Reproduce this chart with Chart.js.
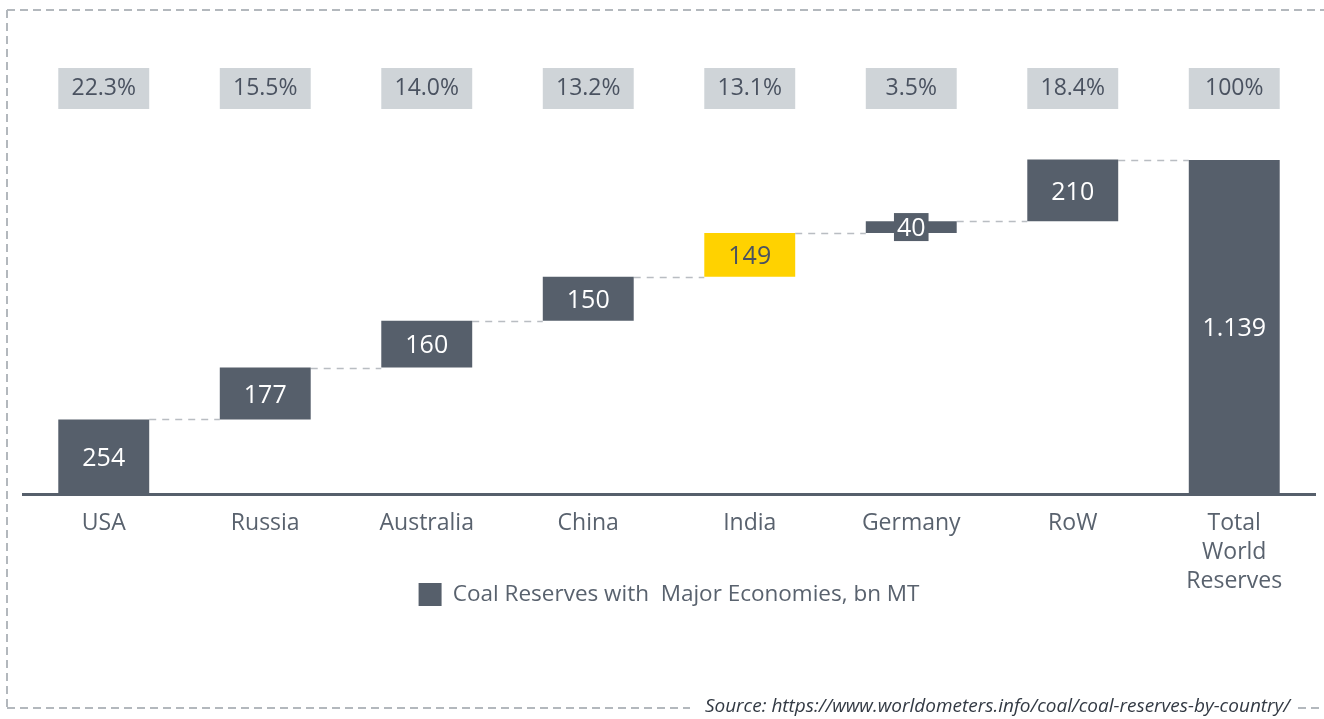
<!DOCTYPE html>
<html>
<head>
<meta charset="utf-8">
<title>Coal Reserves</title>
<script src="https://cdn.jsdelivr.net/npm/chart.js@4.4.1/dist/chart.umd.min.js"></script>
<style>
  html, body { margin: 0; padding: 0; background: #fff; }
  canvas { display: block; }
</style>
</head>
<body>
<canvas id="chart" width="1324" height="719"></canvas>
<script>
// categories and values (bn MT)
const categories = ['USA', 'Russia', 'Australia', 'China', 'India', 'Germany', 'RoW', ['Total', 'World', 'Reserves']];
const reserves = [254, 177, 160, 150, 149, 40, 210];
const worldTotal = 1139;
const shareLabels = ['22.3%', '15.5%', '14.0%', '13.2%', '13.1%', '3.5%', '18.4%', '100%'];
const highlightIndex = 4; // India
const seriesName = 'Coal Reserves with  Major Economies, bn MT';
const sourceText = 'Source: https://www.worldometers.info/coal/coal-reserves-by-country/';

const FONT = "'Open Sans', sans-serif";
const BAR = '#565f6b';
const YELLOW = '#ffd200';
const TEXT = '#59626e';

// waterfall: each country floats on top of the previous running sum
let running = 0;
const floating = reserves.map(v => {
    const seg = [running, running + v];
    running += v;
    return seg;
});
floating.push([0, worldTotal]);
const barValues = [...reserves, worldTotal];

const fmtValue = v => v.toLocaleString('de-DE');

const decorations = {
    id: 'decorations',
    afterLayout(chart) {
        // the axis box is kept short so the legend sits beside the last label line;
        // widen only its label clip so "Reserves" still shows
        chart.scales.x.bottom += 40;
    },
    beforeDraw(chart) {
        const { ctx, width } = chart;
        ctx.save();
        // dashed frame (right side runs off the canvas)
        ctx.strokeStyle = '#b3b8bd';
        ctx.lineWidth = 2;
        ctx.setLineDash([8, 5]);
        ctx.beginPath();
        ctx.moveTo(7, 10); ctx.lineTo(width, 10);
        ctx.moveTo(7, 10); ctx.lineTo(7, 708);
        ctx.moveTo(7, 708); ctx.lineTo(690, 708);
        ctx.moveTo(1298, 708); ctx.lineTo(width, 708);
        ctx.stroke();
        ctx.setLineDash([]);
        // source note
        ctx.fillStyle = '#333a44';
        ctx.font = "italic 19px " + FONT;
        ctx.textAlign = 'right';
        ctx.textBaseline = 'middle';
        ctx.fillText(sourceText, 1290, 707);
        ctx.restore();
    },
    beforeDatasetsDraw(chart) {
        const { ctx } = chart;
        const bars = chart.getDatasetMeta(0).data;
        const y = chart.scales.y;
        ctx.save();
        // connectors between consecutive steps
        ctx.strokeStyle = '#b9bdc2';
        ctx.lineWidth = 1.5;
        ctx.setLineDash([7, 6]);
        for (let i = 0; i < bars.length - 1; i++) {
            const py = Math.round(y.getPixelForValue(floating[i][1])) + 0.5;
            ctx.beginPath();
            ctx.moveTo(bars[i].x + bars[i].width / 2, py);
            ctx.lineTo(bars[i + 1].x - bars[i + 1].width / 2, py);
            ctx.stroke();
        }
        ctx.setLineDash([]);
        // share boxes along the top
        ctx.font = "23px " + FONT;
        ctx.textAlign = 'center';
        ctx.textBaseline = 'middle';
        bars.forEach((b, i) => {
            ctx.fillStyle = '#cfd4d8';
            ctx.fillRect(b.x - b.width / 2, 68, b.width, 41);
            ctx.fillStyle = '#4a5260';
            ctx.fillText(shareLabels[i], b.x, 88.5);
        });
        ctx.restore();
    },
    afterDatasetsDraw(chart) {
        const { ctx } = chart;
        const bars = chart.getDatasetMeta(0).data;
        ctx.save();
        ctx.font = "25px " + FONT;
        ctx.textAlign = 'center';
        ctx.textBaseline = 'middle';
        bars.forEach((b, i) => {
            const label = fmtValue(barValues[i]);
            const cy = (b.y + b.base) / 2;
            const tw = ctx.measureText(label).width;
            if (Math.abs(b.base - b.y) < 30) {
                // thin bar: give the label its own backing
                ctx.fillStyle = BAR;
                ctx.fillRect(b.x - tw / 2 - 3, cy - 14, tw + 6, 28);
            }
            ctx.fillStyle = i === highlightIndex ? '#4a5260' : '#ffffff';
            ctx.fillText(label, b.x, cy + 2);
        });
        ctx.restore();
    }
};

new Chart(document.getElementById('chart'), {
    type: 'bar',
    data: {
        labels: categories,
        datasets: [{
            label: seriesName,
            data: floating,
            backgroundColor: c => (c.dataIndex === highlightIndex ? YELLOW : BAR),
            borderWidth: 0,
            barPercentage: 1,
            categoryPercentage: 0.563
        }]
    },
    options: {
        responsive: false,
        animation: false,
        layout: { padding: { top: 142, left: 23, right: 9, bottom: 103 } },
        scales: {
            x: {
                grid: { display: false, drawTicks: false },
                border: { display: true, color: BAR, width: 3 },
                ticks: {
                    color: TEXT,
                    padding: 15,
                    font: { family: FONT, size: 23, lineHeight: 1.26 }
                },
                afterFit: s => { s.height = 79; }
            },
            y: { display: false, min: 0, max: 1200 }
        },
        plugins: {
            legend: {
                position: 'bottom',
                labels: {
                    boxWidth: 23,
                    boxHeight: 23,
                    padding: 10,
                    color: TEXT,
                    font: { family: FONT, size: 22.5 }
                }
            },
            tooltip: { enabled: false }
        }
    },
    plugins: [decorations]
});
</script>
</body>
</html>
